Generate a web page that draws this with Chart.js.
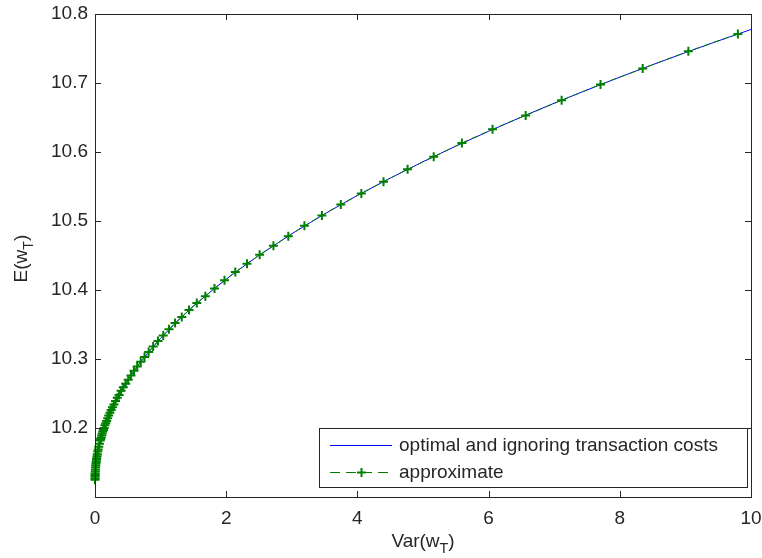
<!DOCTYPE html>
<html>
<head>
<meta charset="utf-8">
<script src="https://cdn.jsdelivr.net/npm/chart.js@4.4.0/dist/chart.umd.min.js"></script>
<style>
  html, body { margin: 0; padding: 0; background: #fff; }
  #wrap { width: 762px; height: 558px; }
</style>
</head>
<body>
<div id="wrap"><canvas id="myChart" width="762" height="558"></canvas></div>
<script>
// optimal frontier, blue solid line
var optVar = [0, 0.0005, 0.002, 0.005, 0.01, 0.02, 0.04, 0.07, 0.1, 0.15, 0.2, 0.3, 0.4, 0.5,
  0.65, 0.8, 1.0, 1.25, 1.5, 1.8, 2.1, 2.5, 3.0, 3.5, 4.0, 4.5, 5.0, 5.5, 6.0, 6.5, 7.0,
  7.5, 8.0, 8.5, 9.0, 9.5, 10.0];
var optMean = [10.123, 10.1276, 10.1323, 10.1376, 10.1437, 10.1523, 10.1644, 10.1778, 10.1885,
  10.2032, 10.2156, 10.2364, 10.2539, 10.2694, 10.2899, 10.3081, 10.330, 10.3544, 10.3765,
  10.4007, 10.423, 10.4503, 10.4815, 10.5103, 10.537, 10.5621, 10.5859, 10.6085, 10.630,
  10.6507, 10.6707, 10.6899, 10.7085, 10.7265, 10.744, 10.761, 10.7776];

// approximate frontier, green dashed line with '+' markers
var approxVar = [9.80, 9.045, 8.349, 7.706, 7.113, 6.565, 6.060, 5.593, 5.163, 4.765, 4.398,
  4.060, 3.747, 3.459, 3.192, 2.947, 2.720, 2.510, 2.317, 2.139, 1.974, 1.822, 1.682, 1.552,
  1.433, 1.323, 1.221, 1.127, 1.040, 0.960, 0.886, 0.818, 0.755, 0.697, 0.643, 0.594, 0.548,
  0.506, 0.467, 0.431, 0.398, 0.367, 0.339, 0.313, 0.289, 0.266, 0.246, 0.227, 0.209, 0.193,
  0.178, 0.1645, 0.1518, 0.1401, 0.1293, 0.1194, 0.1102, 0.1017, 0.0939, 0.0866, 0.0800,
  0.0681, 0.0580, 0.0494, 0.0421, 0.0359, 0.0306, 0.0260, 0.0222, 0.0189, 0.0161, 0.0120,
  0.0090, 0.0065, 0.0045, 0.0030, 0.0018, 0.0010, 0.0004, 0.0001];
var approxMean = [10.771, 10.746, 10.721, 10.698, 10.675, 10.653, 10.633, 10.613, 10.593,
  10.575, 10.557, 10.540, 10.524, 10.508, 10.493, 10.478, 10.464, 10.451, 10.438, 10.426,
  10.414, 10.402, 10.391, 10.381, 10.371, 10.361, 10.352, 10.343, 10.334, 10.326, 10.318,
  10.310, 10.303, 10.296, 10.289, 10.283, 10.276, 10.270, 10.264, 10.259, 10.254, 10.248,
  10.244, 10.239, 10.234, 10.230, 10.226, 10.222, 10.218, 10.214, 10.210, 10.207, 10.204,
  10.200, 10.197, 10.195, 10.192, 10.189, 10.186, 10.184, 10.182, 10.177, 10.173, 10.169,
  10.166, 10.162, 10.159, 10.156, 10.154, 10.151, 10.149, 10.146, 10.143, 10.140, 10.137,
  10.134, 10.132, 10.130, 10.127, 10.125];

var xTicks = [0, 2, 4, 6, 8, 10];
var yTicks = [10.2, 10.3, 10.4, 10.5, 10.6, 10.7, 10.8];
var seriesNames = ["optimal and ignoring transaction costs", "approximate"];

var FONT = "Arial, 'Liberation Sans', sans-serif";
var TEXT = "#262626";
var AXIS = "#262626";
var BLUE = "rgb(0,0,255)";
var GREEN = "rgb(0,128,0)";

function toPoints(xs, ys) {
  return xs.map(function (x, i) { return { x: x, y: ys[i] }; });
}

// draw text with a subscript part, e.g. "Var(w" + "T" + ")"
function subText(ctx, parts, x, y, size) {
  var widths = parts.map(function (p) {
    ctx.font = (p.sub ? size * 0.75 : size) + "px " + FONT;
    return ctx.measureText(p.t).width;
  });
  var total = widths.reduce(function (a, b) { return a + b; }, 0);
  var cx = x - total / 2;
  parts.forEach(function (p, i) {
    ctx.font = (p.sub ? size * 0.75 : size) + "px " + FONT;
    ctx.fillText(p.t, cx, p.sub ? y + size * 0.3 : y);
    cx += widths[i];
  });
}

var matlabLook = {
  id: "matlabLook",
  afterDraw: function (chart) {
    var ctx = chart.ctx;
    var a = chart.chartArea;
    var xs = chart.scales.x, ys = chart.scales.y;
    ctx.save();
    ctx.strokeStyle = AXIS;
    ctx.lineWidth = 1;
    // box
    ctx.strokeRect(Math.round(a.left) + 0.5, Math.round(a.top) + 0.5,
      Math.round(a.right - a.left), Math.round(a.bottom - a.top));
    // inward ticks on all four sides
    var tl = 6;
    ctx.beginPath();
    xTicks.forEach(function (v) {
      var px = Math.round(xs.getPixelForValue(v)) + 0.5;
      ctx.moveTo(px, a.bottom); ctx.lineTo(px, a.bottom - tl);
      ctx.moveTo(px, a.top); ctx.lineTo(px, a.top + tl);
    });
    yTicks.forEach(function (v) {
      var py = Math.round(ys.getPixelForValue(v)) + 0.5;
      ctx.moveTo(a.left, py); ctx.lineTo(a.left + tl, py);
      ctx.moveTo(a.right, py); ctx.lineTo(a.right - tl, py);
    });
    ctx.stroke();

    // axis titles
    ctx.fillStyle = TEXT;
    ctx.textBaseline = "alphabetic";
    ctx.textAlign = "left";
    subText(ctx, [{ t: "Var(w" }, { t: "T", sub: true }, { t: ")" }],
      (a.left + a.right) / 2, 547, 19);
    ctx.save();
    ctx.translate(27, (a.top + a.bottom) / 2 + 3);
    ctx.rotate(-Math.PI / 2);
    subText(ctx, [{ t: "E(w" }, { t: "T", sub: true }, { t: ")" }], 0, 0, 19);
    ctx.restore();

    // legend box inside the axes, lower right
    var bw = 428, bh = 59;
    var bx = Math.round(a.right) - 4 - bw, by = Math.round(a.bottom) - 10 - bh;
    ctx.fillStyle = "#fff";
    ctx.fillRect(bx, by, bw, bh);
    ctx.strokeStyle = AXIS;
    ctx.lineWidth = 1;
    ctx.strokeRect(bx + 0.5, by + 0.5, bw, bh);
    var l1 = by + 17, l2 = by + 44;
    ctx.strokeStyle = BLUE;
    ctx.lineWidth = 1.2;
    ctx.beginPath(); ctx.moveTo(bx + 11, l1 + 0.5); ctx.lineTo(bx + 73, l1 + 0.5); ctx.stroke();
    ctx.strokeStyle = GREEN;
    ctx.lineWidth = 1;
    ctx.setLineDash([10, 6]);
    ctx.beginPath(); ctx.moveTo(bx + 11, l2 + 0.5); ctx.lineTo(bx + 73, l2 + 0.5); ctx.stroke();
    ctx.setLineDash([]);
    var mx = bx + 42;
    ctx.lineWidth = 2;
    ctx.beginPath();
    ctx.moveTo(mx - 4, l2 + 0.5); ctx.lineTo(mx + 5, l2 + 0.5);
    ctx.moveTo(mx + 0.5, l2 - 4); ctx.lineTo(mx + 0.5, l2 + 5);
    ctx.stroke();
    ctx.fillStyle = TEXT;
    ctx.font = "19px " + FONT;
    ctx.textBaseline = "middle";
    ctx.fillText(seriesNames[0], bx + 80, l1 + 1);
    ctx.fillText(seriesNames[1], bx + 80, l2 + 1);
    ctx.restore();
  }
};

var ctx = document.getElementById("myChart").getContext("2d");
var chart = new Chart(ctx, {
  type: "scatter",
  data: {
    datasets: [
      {
        label: seriesNames[0],
        data: toPoints(optVar, optMean),
        showLine: true,
        borderColor: BLUE,
        backgroundColor: BLUE,
        borderWidth: 1,
        pointRadius: 0,
        order: 1
      },
      {
        label: seriesNames[1],
        data: toPoints(approxVar, approxMean),
        showLine: true,
        borderColor: GREEN,
        backgroundColor: GREEN,
        borderWidth: 1,
        borderDash: [6, 4],
        pointStyle: "cross",
        pointRadius: 4.5,
        pointBorderWidth: 2,
        pointBorderColor: GREEN,
        clip: false,
        order: 0
      }
    ]
  },
  options: {
    responsive: false,
    animation: false,
    devicePixelRatio: 1,
    layout: { padding: { top: 14, right: 11, left: 0, bottom: 0 } },
    plugins: {
      legend: { display: false },
      tooltip: { enabled: false }
    },
    scales: {
      x: {
        type: "linear",
        min: 0,
        max: 10,
        grid: { display: false, drawTicks: false },
        border: { display: false },
        afterBuildTicks: function (s) { s.ticks = xTicks.map(function (v) { return { value: v }; }); },
        afterFit: function (s) { s.height = 61; s.paddingLeft = 0; s.paddingRight = 0; },
        ticks: {
          color: TEXT,
          padding: 10,
          maxRotation: 0,
          font: { family: FONT, size: 19 },
          callback: function (v) { return String(v); }
        }
      },
      y: {
        type: "linear",
        min: 10.1,
        max: 10.8,
        grid: { display: false, drawTicks: false },
        border: { display: false },
        afterBuildTicks: function (s) { s.ticks = yTicks.map(function (v) { return { value: v }; }); },
        afterFit: function (s) { s.width = 95; s.paddingTop = 0; s.paddingBottom = 0; },
        ticks: {
          color: TEXT,
          padding: 7,
          font: { family: FONT, size: 19 },
          callback: function (v) { return v.toFixed(1); }
        }
      }
    }
  },
  plugins: [matlabLook]
});
</script>
</body>
</html>
